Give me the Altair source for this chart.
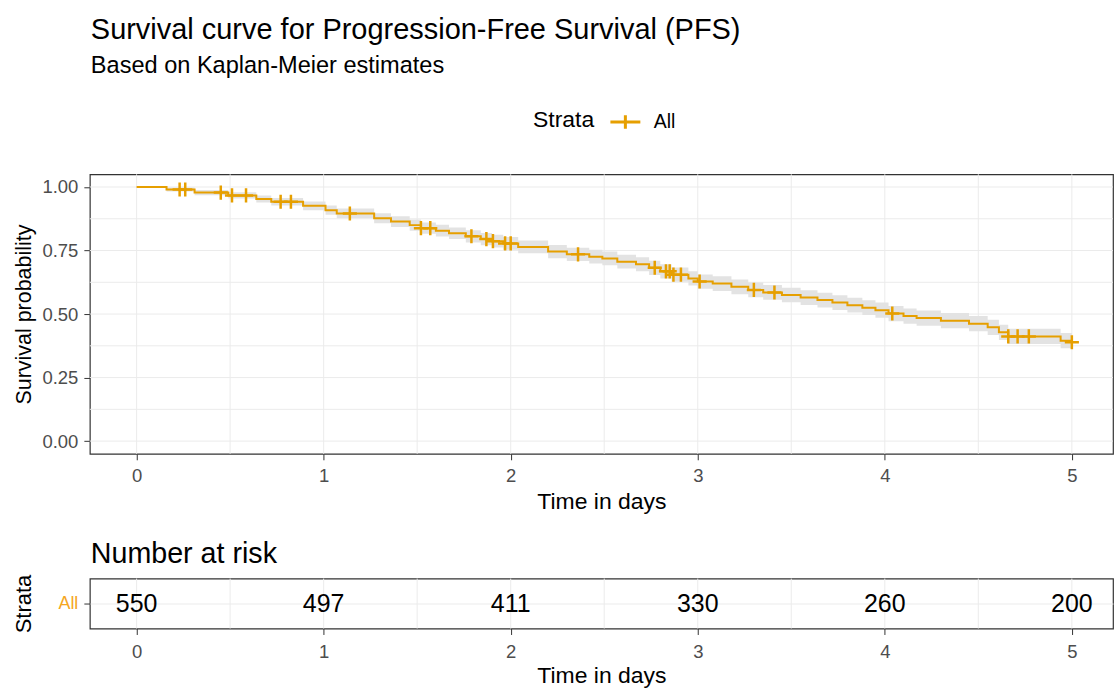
import altair as alt
import pandas as pd

# ---------------- data ----------------
# Kaplan-Meier step curve (time in days, survival probability)
TIMES = [0.00, 0.16, 0.31, 0.49, 0.64, 0.72, 0.89, 1.01, 1.07, 1.27,
         1.36, 1.46, 1.52, 1.60, 1.67, 1.76, 1.84, 1.90, 1.96, 2.04,
         2.20, 2.30, 2.42, 2.49, 2.57, 2.67, 2.74, 2.80, 2.86, 2.95,
         3.00, 3.08, 3.18, 3.27, 3.35, 3.45, 3.55, 3.64, 3.72, 3.80,
         3.88, 3.95, 4.02, 4.10, 4.17, 4.30, 4.45, 4.55, 4.61, 4.66,
         4.94, 5.00]
SURV = [1.000, 0.990, 0.978, 0.967, 0.953, 0.942, 0.926, 0.909, 0.896, 0.877,
        0.864, 0.850, 0.838, 0.828, 0.818, 0.806, 0.795, 0.787, 0.778, 0.764,
        0.746, 0.735, 0.726, 0.719, 0.706, 0.696, 0.682, 0.668, 0.655, 0.640,
        0.628, 0.620, 0.607, 0.595, 0.585, 0.575, 0.565, 0.555, 0.545, 0.535,
        0.525, 0.515, 0.502, 0.492, 0.484, 0.474, 0.462, 0.448, 0.428, 0.412,
        0.395, 0.389]
UPPER = [1.000, 0.998, 0.988, 0.979, 0.967, 0.957, 0.943, 0.927, 0.915, 0.897,
         0.885, 0.872, 0.860, 0.851, 0.841, 0.830, 0.819, 0.812, 0.803, 0.789,
         0.772, 0.761, 0.753, 0.746, 0.733, 0.724, 0.710, 0.696, 0.683, 0.668,
         0.656, 0.649, 0.636, 0.624, 0.614, 0.604, 0.594, 0.584, 0.574, 0.564,
         0.554, 0.545, 0.532, 0.522, 0.514, 0.504, 0.492, 0.478, 0.458, 0.442,
         0.425, 0.419]
LOWER = [1.000, 0.982, 0.968, 0.955, 0.939, 0.927, 0.909, 0.891, 0.877, 0.857,
         0.843, 0.828, 0.816, 0.805, 0.795, 0.782, 0.771, 0.762, 0.753, 0.739,
         0.720, 0.709, 0.699, 0.692, 0.679, 0.668, 0.654, 0.640, 0.627, 0.612,
         0.600, 0.591, 0.578, 0.566, 0.556, 0.546, 0.536, 0.526, 0.516, 0.506,
         0.496, 0.485, 0.472, 0.462, 0.454, 0.444, 0.432, 0.418, 0.398, 0.382,
         0.365, 0.359]

# censoring marks
CENS_T = [0.23, 0.26, 0.45, 0.51, 0.585, 0.77, 0.825, 1.14, 1.52, 1.57,
          1.79, 1.87, 1.905, 1.97, 2.00, 2.36, 2.77, 2.83, 2.85, 2.87,
          2.91, 3.01, 3.30, 3.41, 4.04, 4.66, 4.71, 4.77, 5.00]
CENS_S = [0.990, 0.990, 0.978, 0.967, 0.967, 0.942, 0.942, 0.896, 0.838, 0.838,
          0.806, 0.795, 0.787, 0.778, 0.778, 0.735, 0.682, 0.668, 0.668, 0.655,
          0.655, 0.628, 0.595, 0.585, 0.502, 0.412, 0.412, 0.412, 0.389]

# number at risk table
RISK_T = [0, 1, 2, 3, 4, 5]
RISK_N = [550, 497, 411, 330, 260, 200]

# axis ticks / grid lines
X_TICKS = [0, 1, 2, 3, 4, 5]
X_GRID = [0, 0.5, 1, 1.5, 2, 2.5, 3, 3.5, 4, 4.5, 5]
Y_TICKS = [0, 0.25, 0.5, 0.75, 1.0]
Y_GRID = [0, 0.125, 0.25, 0.375, 0.5, 0.625, 0.75, 0.875, 1.0]

STRATA = "All"
# ---------------------------------------------------------------

ORANGE = "#E69F00"
FONT = "Liberation Sans"
GRID = "#ebebeb"
LABEL_GRAY = "#4d4d4d"

km = pd.DataFrame({"t": TIMES, "surv": SURV, "lower": LOWER, "upper": UPPER,
                   "strata": [STRATA] * len(TIMES)})
cens = pd.DataFrame({"t": CENS_T, "surv": CENS_S})
risk = pd.DataFrame({"t": RISK_T, "n": RISK_N, "strata": [STRATA] * len(RISK_T)})
xg = pd.DataFrame({"t": X_GRID})
yg = pd.DataFrame({"surv": Y_GRID})

xscale = alt.Scale(domain=[-0.25, 5.22], nice=False, zero=False)
yscale = alt.Scale(domain=[-0.05, 1.05], nice=False, zero=False)

xaxis = alt.Axis(values=X_TICKS, grid=False, domain=False, tickSize=6,
                 tickColor="#333333", tickWidth=1, labelColor=LABEL_GRAY,
                 labelFontSize=18.5, labelPadding=7, title="Time in days",
                 titleFontSize=23, titleFontWeight="normal", titleColor="black",
                 titlePadding=5, format="d", labelFont=FONT, titleFont=FONT)
yaxis = alt.Axis(values=Y_TICKS, grid=False, domain=False, tickSize=6,
                 tickColor="#333333", tickWidth=1, labelColor=LABEL_GRAY,
                 labelFontSize=18.5, labelPadding=6, format=".2f",
                 title="Survival probability", titleFontSize=21.5,
                 titleFontWeight="normal", titleColor="black", titlePadding=6,
                 labelFont=FONT, titleFont=FONT)

X = alt.X("t:Q", scale=xscale, axis=xaxis)
Y = alt.Y("surv:Q", scale=yscale, axis=yaxis)

vgrid = alt.Chart(xg).mark_rule(color=GRID, strokeWidth=1).encode(x=X)
hgrid = alt.Chart(yg).mark_rule(color=GRID, strokeWidth=1).encode(y=Y)

band = alt.Chart(km).mark_area(interpolate="step-after", color="#e3e3e3").encode(
    x=X,
    y=alt.Y("lower:Q", scale=yscale, axis=yaxis),
    y2="upper:Q",
)

CROSS = "M-1,0L1,0M0,-0.45L0,0.45"
line = alt.Chart(km).mark_line(interpolate="step-after", strokeWidth=2).encode(
    x=X,
    y=Y,
    color=alt.Color(
        "strata:N",
        scale=alt.Scale(domain=[STRATA], range=[ORANGE]),
        legend=alt.Legend(
            title="Strata", orient="none", legendX=444, legendY=-69,
            direction="horizontal", titleOrient="left", titleFontSize=23,
            titleFontWeight="normal", titleColor="black", titleFont=FONT,
            titlePadding=14, labelFontSize=19.5, labelFont=FONT,
            labelColor="black", symbolType=CROSS, symbolSize=900,
            symbolStrokeWidth=3, symbolStrokeColor=ORANGE,
            symbolFillColor="transparent", labelOffset=12,
        ),
    ),
)

marks = alt.Chart(cens).mark_point(
    shape="M-1,0L1,0M0,-1L0,1", size=200, strokeWidth=2.5, filled=False,
    color=ORANGE, opacity=1,
).encode(x=X, y=Y)

main = alt.layer(vgrid, hgrid, band, line, marks).properties(width=1025, height=280)

# risk table
rxaxis = alt.Axis(values=X_TICKS, grid=False, domain=False, tickSize=6,
                  tickColor="#333333", tickWidth=1, labelColor=LABEL_GRAY,
                  labelFontSize=18.5, labelPadding=8, title="Time in days",
                  titleFontSize=23, titleFontWeight="normal", titleColor="black",
                  titlePadding=4, format="d", labelFont=FONT, titleFont=FONT)
RX = alt.X("t:Q", scale=xscale, axis=rxaxis)
ryaxis = alt.Axis(grid=True, gridColor=GRID, domain=False, tickSize=6,
                  tickColor="#333333", labelColor="#F5A623", labelFontSize=18,
                  labelPadding=6, title="Strata", titleFontSize=22,
                  titleFontWeight="normal", titleColor="black", titlePadding=22,
                  labelFont=FONT, titleFont=FONT)
RY = alt.Y("strata:N", axis=ryaxis)

rgrid = alt.Chart(xg).mark_rule(color=GRID, strokeWidth=1).encode(x=RX)
rtext = alt.Chart(risk).mark_text(fontSize=25, font=FONT, color="black").encode(
    x=RX, y=RY, text="n:Q")

table = alt.layer(rgrid, rtext).properties(
    width=1025, height=50,
    title=alt.TitleParams("Number at risk", anchor="start", frame="group",
                          fontSize=28.7, fontWeight="normal", color="black",
                          font=FONT, offset=6, dx=1),
)

chart = alt.vconcat(main, table, spacing=24).properties(
    title=alt.TitleParams(
        "Survival curve for Progression-Free Survival (PFS)",
        subtitle="Based on Kaplan-Meier estimates",
        anchor="start", frame="group", fontSize=29, fontWeight="normal",
        color="black", font=FONT, subtitleFontSize=23.6, subtitleColor="black",
        subtitleFont=FONT, subtitlePadding=9, offset=28, dx=1,
    ),
    padding={"left": 12, "top": 15, "right": 0, "bottom": 0},
).configure(font=FONT).configure_view(stroke="#333333", strokeWidth=1.2)

chart.save("out.html", embed_options={"renderer": "svg", "actions": False})
